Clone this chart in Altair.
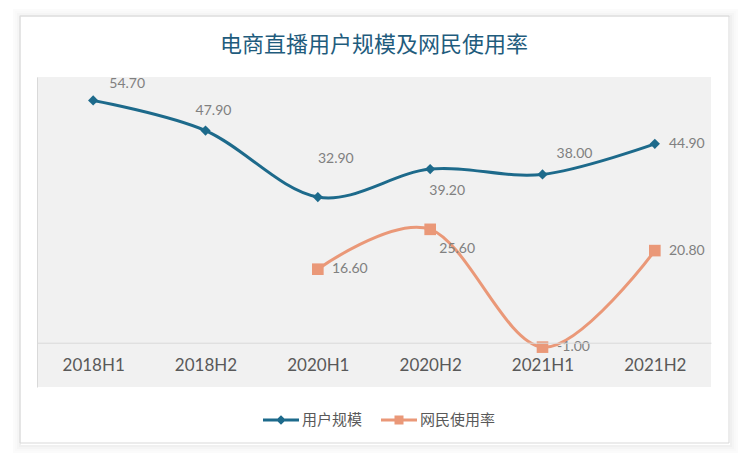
import altair as alt
import pandas as pd

# ---------------- data ----------------
periods = ["2018H1", "2018H2", "2020H1", "2020H2", "2021H1", "2021H2"]
users = [54.7, 47.9, 32.9, 39.2, 38.0, 44.9]          # 用户规模
rate = [None, None, 16.6, 25.6, -1.0, 20.8]           # 网民使用率
series_names = ["用户规模", "网民使用率"]
title_text = "电商直播用户规模及网民使用率"

# ---------------- style ----------------
colors = ["#1d6a8b", "#ea9878"]
shapes = ["diamond", "square"]
sizes = [105, 135]
legend_paths = [
    "M-1,-0.083H1V0.083H-1Z M0,-0.27L0.27,0L0,0.27L-0.27,0Z",
    "M-1,-0.083H1V0.083H-1Z M-0.25,-0.25H0.25V0.25H-0.25Z",
]
# data-label placement (dx, dy) for each series/period
label_offsets = {
    ("用户规模", "2018H1"): (34, -16),
    ("用户规模", "2018H2"): (8, -20),
    ("用户规模", "2020H1"): (18, -38),
    ("用户规模", "2020H2"): (17, 22),
    ("用户规模", "2021H1"): (32, -20),
    ("用户规模", "2021H2"): (32, 0),
    ("网民使用率", "2020H1"): (32, 0),
    ("网民使用率", "2020H2"): (27, 20),
    ("网民使用率", "2021H1"): (31, 0),
    ("网民使用率", "2021H2"): (32, 0),
}

rows = []
for s, vals in zip(series_names, [users, rate]):
    for p, v in zip(periods, vals):
        if v is not None:
            rows.append({"period": p, "series": s, "value": v,
                         "label": f"{v:.2f}", "key": f"{s}|{p}"})
df = pd.DataFrame(rows)

W, H = 674, 310
PAD = {"left": 37, "top": 77, "right": 750 - 37 - W, "bottom": 461 - 77 - H}

x_enc = alt.X("period:N", sort=periods,
              scale=alt.Scale(type="point", padding=0.5, domain=periods),
              axis=alt.Axis(title=None, domain=True, domainColor="#d9d9d9", domainWidth=1,
                            ticks=False, grid=False, labelAngle=0, offset=-(H * 10 / 70),
                            labelPadding=15, labelFont="Lato", labelFontSize=17,
                            labelColor="#595959", zindex=1))
y_enc = alt.Y("value:Q",
              scale=alt.Scale(domain=[-10, 60], nice=False, zero=False),
              axis=alt.Axis(title=None, labels=False, ticks=False, grid=False,
                            domain=True, domainColor="#d9d9d9", zindex=1))
color_scale = alt.Scale(domain=series_names, range=colors)

one = alt.InlineData(values=[{"a": 1}])

# card + shadow
shadow_layers = []
for i, op in zip([7, 5, 3, 1], [0.015, 0.025, 0.04, 0.06]):
    shadow_layers.append(
        alt.Chart(one).mark_rect(fillOpacity=0, stroke="#000000", strokeOpacity=op, strokeWidth=2)
        .encode(x=alt.value(-17 - i + 1), x2=alt.value(692 + i + 1),
                y=alt.value(-61 - i + 1), y2=alt.value(366 + i + 2))
    )
card = alt.Chart(one).mark_rect(fillOpacity=0, stroke="#d9d9d9", strokeWidth=1).encode(
    x=alt.value(-17), x2=alt.value(692), y=alt.value(-61), y2=alt.value(366))
plot_bg = alt.Chart(one).mark_rect(fill="#f1f1f1", strokeWidth=0).encode(
    x=alt.value(0), x2=alt.value(W), y=alt.value(0), y2=alt.value(H))

base = alt.Chart(df)

lines = base.mark_line(interpolate="cardinal", strokeWidth=3).encode(
    x=x_enc, y=y_enc,
    color=alt.Color("series:N", scale=color_scale, legend=None),
    detail="series:N",
)
points = base.mark_point(filled=True, opacity=1).encode(
    x=x_enc, y=y_enc,
    color=alt.Color("series:N", scale=color_scale, legend=None),
    shape=alt.Shape("series:N", scale=alt.Scale(domain=series_names, range=shapes), legend=None),
    size=alt.Size("series:N", scale=alt.Scale(domain=series_names, range=sizes), legend=None),
)

# data labels grouped by offset
groups = {}
for k, off in label_offsets.items():
    groups.setdefault(off, []).append(f"{k[0]}|{k[1]}")
label_layers = []
for (dx, dy), keys in groups.items():
    label_layers.append(
        base.transform_filter(alt.FieldOneOfPredicate(field="key", oneOf=keys))
        .mark_text(dx=dx, dy=dy, align="center", baseline="middle",
                   font="Lato", fontSize=14, color="#808080")
        .encode(x=x_enc, y=y_enc, text="label:N")
    )

legend_kw = dict(title=None, orient="none", legendX=226, legendY=325, direction="horizontal",
                 labelFont="Noto Sans CJK SC", labelFontSize=15, labelColor="#595959",
                 symbolSize=1296, symbolStrokeWidth=0, labelOffset=3, columnPadding=18,
                 symbolOpacity=1)
legend_layer = base.transform_filter("false").mark_point(filled=True, opacity=1, size=1296).encode(
    color=alt.Color("series:N", scale=color_scale, legend=alt.Legend(**legend_kw)),
    shape=alt.Shape("series:N", scale=alt.Scale(domain=series_names, range=legend_paths),
                    legend=alt.Legend(**legend_kw)),
)

chart = alt.layer(*shadow_layers, card, plot_bg, lines, points, *label_layers, legend_layer).resolve_scale(
    color="independent", shape="independent", size="independent"
).properties(
    width=W, height=H, autosize="none", padding=PAD, background="#ffffff",
    title=alt.TitleParams(title_text, font="Noto Sans CJK SC", fontSize=22, fontWeight="normal",
                          color="#1f5c7d", anchor="middle", frame="group", baseline="bottom",
                          offset=-70),
).configure_view(stroke=None)

chart.save("out.html", embed_options={"renderer": "svg", "actions": False})
